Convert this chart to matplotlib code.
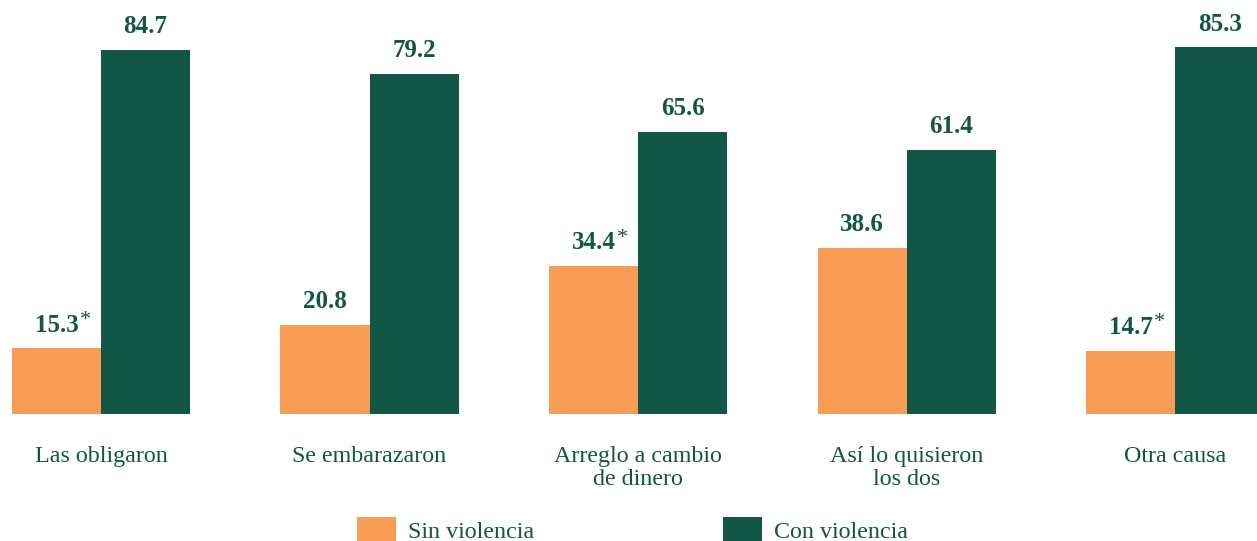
import matplotlib.pyplot as plt
import numpy as np

categories = [
    "Las obligaron",
    "Se embarazaron",
    "Arreglo a cambio\nde dinero",
    "Así lo quisieron\nlos dos",
    "Otra causa",
]
sin_violencia = [15.3, 20.8, 34.4, 38.6, 14.7]
con_violencia = [84.7, 79.2, 65.6, 61.4, 85.3]
# values flagged with an asterisk in the labels
sin_flag = [True, False, True, False, True]
con_flag = [False, False, False, False, False]

ORANGE = "#F89C55"
GREEN = "#125746"

plt.rcParams["font.family"] = ["Liberation Serif", "DejaVu Serif"]

fig = plt.figure(figsize=(12.57, 5.41), dpi=100)
ax = fig.add_axes([0, 0.2348, 1, 0.7652])

x = np.arange(len(categories))
width = 0.3315

bars_sin = ax.bar(x - width / 2, sin_violencia, width, color=ORANGE, label="Sin violencia")
bars_con = ax.bar(x + width / 2, con_violencia, width, color=GREEN, label="Con violencia")


def label_bars(bars, values, flags):
    for bar, val, flag in zip(bars, values, flags):
        txt = ax.annotate(
            f"{val:.1f}",
            xy=(bar.get_x() + bar.get_width() / 2, bar.get_height()),
            xytext=(0, 12),
            textcoords="offset points",
            ha="center",
            va="baseline",
            fontsize=18,
            fontweight="bold",
            color=GREEN,
        )
        if flag:
            ax.annotate(
                "*",
                xy=(1, 1),
                xycoords=txt,
                xytext=(1, 2),
                textcoords="offset points",
                ha="left",
                va="top",
                fontsize=16,
                color=GREEN,
            )


label_bars(bars_sin, sin_violencia, sin_flag)
label_bars(bars_con, con_violencia, con_flag)

ax.set_xlim(-0.376, 4.305)
ax.set_ylim(0, 96.3)
ax.set_xticks(x)
ax.set_xticklabels(categories, fontsize=17.3, color=GREEN, linespacing=1.12)
ax.tick_params(axis="x", length=0, pad=23)
ax.set_yticks([])
for spine in ax.spines.values():
    spine.set_visible(False)

# legend sits at the bottom edge; its squares run off the figure
fig.legend(
    handles=[bars_sin, bars_con],
    loc="upper left",
    bbox_to_anchor=(357 / 1257, 1 - 517 / 541),
    ncol=2,
    frameon=False,
    fontsize=17.3,
    labelcolor=GREEN,
    borderpad=0,
    borderaxespad=0,
    handlelength=1.62,
    handleheight=1.3,
    handletextpad=0.5,
    columnspacing=7.87,
)

fig.savefig("out.png", dpi=100)
